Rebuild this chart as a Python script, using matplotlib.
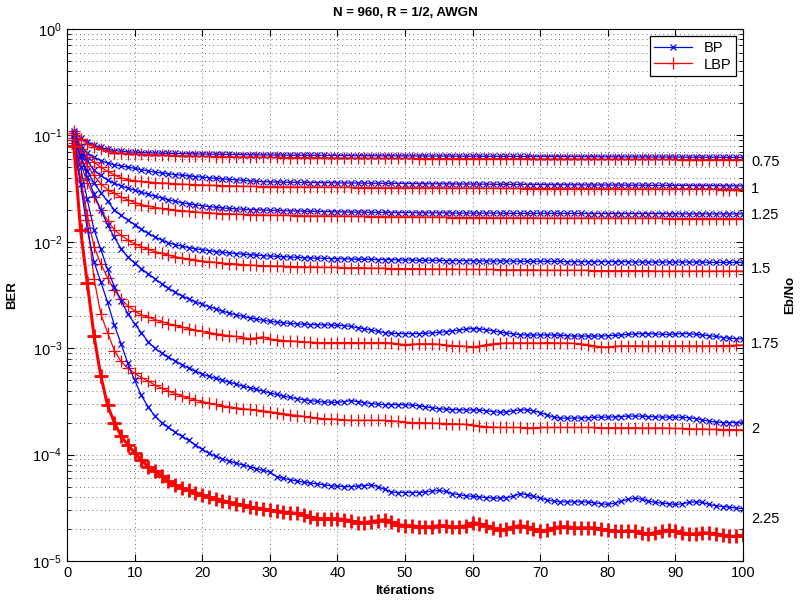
import numpy as np
import matplotlib
matplotlib.use("Agg")
import matplotlib.pyplot as plt
from matplotlib.lines import Line2D
from matplotlib.ticker import LogLocator, NullFormatter

plt.rcParams['font.family'] = ['Liberation Sans', 'DejaVu Sans']
plt.rcParams['mathtext.default'] = 'regular'

# itérations 1..100
iterations = np.arange(1, 101)
ebno_labels = ['0.75', '1', '1.25', '1.5', '1.75', '2', '2.25']

# BER (BP = bleu, LBP = rouge)
bp_075 = np.array([
    110, 95, 87, 81, 77, 74, 72, 71, 70, 69.5,
    69, 68.6, 68.3, 68, 67.8, 67.6, 67.4, 67.2, 67, 66.8,
    66.6, 66.5, 66.3, 66.2, 66, 65.9, 65.7, 65.6, 65.5, 65.4,
    65.3, 65.2, 65.1, 65, 65, 64.9, 64.8, 64.8, 64.7, 64.6,
    64.6, 64.5, 64.5, 64.4, 64.4, 64.3, 64.3, 64.2, 64.2, 64.1,
    64.1, 64, 64, 63.9, 63.9, 63.9, 63.8, 63.8, 63.7, 63.7,
    63.7, 63.6, 63.6, 63.5, 63.5, 63.5, 63.4, 63.4, 63.3, 63.3,
    63.3, 63.2, 63.2, 63.1, 63.1, 63.1, 63, 63, 62.9, 62.9,
    62.9, 62.8, 62.8, 62.7, 62.7, 62.7, 62.6, 62.6, 62.5, 62.5,
    62.5, 62.4, 62.4, 62.3, 62.3, 62.3, 62.2, 62.2, 62.1, 62.1]) * 1e-3
lbp_075 = np.array([
    110, 93, 83, 78, 74, 71, 69, 68, 67.5, 67,
    66.5, 66, 65.6, 65.2, 64.9, 64.6, 64.3, 64, 63.8, 63.6,
    63.4, 63.2, 63, 62.9, 62.7, 62.6, 62.5, 62.3, 62.2, 62.1,
    62, 61.9, 61.8, 61.7, 61.6, 61.6, 61.5, 61.4, 61.3, 61.3,
    61.2, 61.1, 61.1, 61, 61, 60.9, 60.9, 60.8, 60.8, 60.7,
    60.7, 60.6, 60.6, 60.5, 60.5, 60.5, 60.4, 60.4, 60.3, 60.3,
    60.3, 60.2, 60.2, 60.2, 60.1, 60.1, 60.1, 60, 60, 60,
    59.9, 59.9, 59.9, 59.8, 59.8, 59.8, 59.7, 59.7, 59.7, 59.6,
    59.6, 59.6, 59.6, 59.5, 59.5, 59.5, 59.4, 59.4, 59.4, 59.4,
    59.3, 59.3, 59.3, 59.2, 59.2, 59.2, 59.2, 59.1, 59.1, 59.1]) * 1e-3

bp_1 = np.array([
    105, 80, 68, 62.7, 58, 55, 53, 51.5, 50.5, 49,
    47.5, 46.3, 45.2, 44.3, 43.5, 42.8, 42.2, 41.6, 41, 40.5,
    40, 39.5, 39, 38.6, 38.2, 37.8, 37.4, 37, 36.7, 36.5,
    36.4, 36.3, 36.2, 36.2, 36.1, 36, 36, 35.9, 35.9, 35.8,
    35.7, 35.7, 35.6, 35.6, 35.5, 35.5, 35.4, 35.4, 35.3, 35.3,
    35.2, 35.2, 35.1, 35.1, 35.1, 35, 35, 34.9, 34.9, 34.9,
    34.8, 34.8, 34.7, 34.7, 34.7, 34.6, 34.6, 34.5, 34.5, 34.5,
    34.4, 34.4, 34.4, 34.3, 34.3, 34.3, 34.2, 34.2, 34.2, 34.1,
    34.1, 34.1, 34, 34, 34, 33.9, 33.9, 33.9, 33.9, 33.8,
    33.8, 33.8, 33.7, 33.7, 33.7, 33.7, 33.6, 33.6, 33.6, 33.5]) * 1e-3
lbp_1 = np.array([
    105, 75, 62, 56, 50, 46, 42.5, 40, 38.5, 37.5,
    37, 36.5, 36, 35.7, 35.4, 35.1, 34.8, 34.6, 34.4, 34.2,
    34, 33.9, 33.7, 33.6, 33.4, 33.3, 33.2, 33.1, 33, 32.9,
    32.9, 32.8, 32.8, 32.7, 32.7, 32.6, 32.6, 32.5, 32.5, 32.4,
    32.4, 32.4, 32.3, 32.3, 32.3, 32.2, 32.2, 32.2, 32.1, 32.1,
    32.1, 32, 32, 32, 32, 31.9, 31.9, 31.9, 31.9, 31.8,
    31.8, 31.8, 31.8, 31.7, 31.7, 31.7, 31.7, 31.6, 31.6, 31.6,
    31.6, 31.6, 31.5, 31.5, 31.5, 31.5, 31.4, 31.4, 31.4, 31.4,
    31.4, 31.3, 31.3, 31.3, 31.3, 31.3, 31.2, 31.2, 31.2, 31.2,
    31.2, 31.1, 31.1, 31.1, 31.1, 31.1, 31, 31, 31, 31]) * 1e-3

bp_125 = np.array([
    100, 75, 58, 47, 42, 38, 35.5, 33.5, 32, 30.5,
    29.2, 28, 26.8, 25.8, 24.8, 24, 23.3, 22.7, 22.2, 21.8,
    21.4, 21.1, 20.8, 20.6, 20.4, 20.2, 20.1, 20, 19.9, 19.8,
    19.7, 19.6, 19.5, 19.5, 19.4, 19.3, 19.3, 19.2, 19.2, 19.1,
    19.1, 19, 19, 19, 18.9, 18.9, 18.9, 18.8, 18.8, 18.8,
    18.8, 18.7, 18.7, 18.7, 18.7, 18.7, 18.6, 18.6, 18.6, 18.6,
    18.6, 18.6, 18.6, 18.6, 18.5, 18.5, 18.5, 18.5, 18.5, 18.5,
    18.5, 18.5, 18.5, 18.5, 18.5, 18.5, 18.4, 18.4, 18.4, 18.4,
    18.4, 18.4, 18.4, 18.4, 18.4, 18.4, 18.4, 18.4, 18.3, 18.3,
    18.3, 18.3, 18.3, 18.3, 18.3, 18.3, 18.3, 18.3, 18.3, 18.3]) * 1e-3
lbp_125 = np.array([
    100, 70, 52, 42, 35, 31, 28.5, 26.3, 24.8, 23.4,
    22.4, 21.6, 21, 20.6, 20.2, 19.9, 19.6, 19.3, 19.1, 18.9,
    18.7, 18.5, 18.4, 18.3, 18.2, 18.1, 18, 17.9, 17.9, 17.8,
    17.8, 17.7, 17.7, 17.6, 17.6, 17.5, 17.5, 17.5, 17.4, 17.4,
    17.4, 17.3, 17.3, 17.3, 17.2, 17.2, 17.2, 17.1, 17.1, 17.1,
    17.1, 17, 17, 17, 17, 17, 16.9, 16.9, 16.9, 16.9,
    16.9, 16.9, 16.8, 16.8, 16.8, 16.8, 16.8, 16.8, 16.8, 16.7,
    16.7, 16.7, 16.7, 16.7, 16.7, 16.7, 16.7, 16.6, 16.6, 16.6,
    16.6, 16.6, 16.6, 16.6, 16.6, 16.6, 16.6, 16.6, 16.5, 16.5,
    16.5, 16.5, 16.5, 16.5, 16.5, 16.5, 16.5, 16.5, 16.5, 16.5]) * 1e-3

bp_15 = np.array([
    95, 63, 46, 35.7, 29, 24, 20, 17.7, 16, 14.5,
    13.1, 12, 11.1, 10.4, 9.8, 9.4, 9.1, 8.8, 8.6, 8.4,
    8.25, 8.1, 7.95, 7.85, 7.75, 7.65, 7.55, 7.5, 7.4, 7.35,
    7.3, 7.25, 7.2, 7.15, 7.1, 7.05, 7, 7, 6.95, 6.95,
    6.9, 6.9, 6.85, 6.85, 6.85, 6.8, 6.8, 6.8, 6.75, 6.75,
    6.75, 6.7, 6.7, 6.7, 6.7, 6.65, 6.65, 6.65, 6.65, 6.65,
    6.6, 6.6, 6.6, 6.6, 6.6, 6.6, 6.55, 6.55, 6.55, 6.55,
    6.55, 6.55, 6.55, 6.5, 6.5, 6.5, 6.5, 6.5, 6.5, 6.5,
    6.5, 6.5, 6.5, 6.45, 6.45, 6.45, 6.45, 6.45, 6.45, 6.45,
    6.45, 6.45, 6.45, 6.45, 6.4, 6.4, 6.4, 6.4, 6.4, 6.4]) * 1e-3
lbp_15 = np.array([
    95, 55, 36, 26.4, 20, 15.8, 13, 11.5, 10.4, 9.6,
    9, 8.5, 8.1, 7.8, 7.5, 7.25, 7.05, 6.9, 6.75, 6.6,
    6.5, 6.4, 6.3, 6.25, 6.2, 6.1, 6.05, 6, 5.95, 5.95,
    5.9, 5.9, 5.85, 5.85, 5.8, 5.8, 5.8, 5.75, 5.75, 5.75,
    5.7, 5.7, 5.7, 5.7, 5.65, 5.65, 5.65, 5.6, 5.6, 5.6,
    5.6, 5.6, 5.55, 5.55, 5.55, 5.55, 5.55, 5.5, 5.5, 5.5,
    5.5, 5.5, 5.5, 5.45, 5.45, 5.45, 5.45, 5.45, 5.45, 5.4,
    5.4, 5.4, 5.4, 5.4, 5.4, 5.4, 5.4, 5.35, 5.35, 5.35,
    5.35, 5.35, 5.35, 5.35, 5.35, 5.35, 5.3, 5.3, 5.3, 5.3,
    5.3, 5.3, 5.3, 5.3, 5.3, 5.3, 5.3, 5.3, 5.3, 5.3]) * 1e-3

bp_175 = np.array([
    900, 650, 410, 280, 200, 145, 110, 86, 72, 63,
    56, 50, 45, 40.5, 36.5, 33.5, 31, 29, 27.3, 25.8,
    24.6, 23.4, 22.3, 21.4, 20.6, 19.9, 19.3, 18.8, 18.3, 17.9,
    17.6, 17.3, 17.1, 16.9, 16.8, 16.7, 16.6, 16.6, 16.5, 16.4,
    16.3, 16, 15.6, 15.2, 14.8, 14.4, 14, 13.8, 13.7, 13.7,
    13.7, 13.7, 13.8, 13.9, 14.1, 14.3, 14.5, 14.8, 15.1, 15.3,
    15.2, 14.9, 14.6, 14.2, 13.9, 13.6, 13.4, 13.3, 13.3, 13.3,
    13.3, 13.3, 13.2, 13.1, 13, 13, 13, 13, 13, 13.1,
    13.2, 13.3, 13.5, 13.6, 13.7, 13.7, 13.6, 13.5, 13.5, 13.6,
    13.7, 13.7, 13.5, 13.3, 13.1, 12.9, 12.6, 12.4, 12.3, 12.2]) * 1e-4
lbp_175 = np.array([
    900, 400, 180, 90, 62, 46, 35, 29, 25, 22.5,
    20.5, 19.6, 18.6, 17.8, 17, 16.4, 15.8, 15.3, 14.8, 14.4,
    14, 13.7, 13.4, 13.1, 12.9, 12.6, 12.3, 12.5, 12.8, 12.2,
    12, 11.8, 11.7, 11.6, 11.5, 11.4, 11.3, 11.3, 11.3, 11.3,
    11.3, 11.3, 11.3, 11.3, 11.3, 11.3, 11.3, 11.2, 11, 10.8,
    10.9, 11, 11, 11, 10.9, 10.7, 10.6, 10.5, 10.4, 10.3,
    10.5, 10.8, 11, 11.1, 11.2, 11.2, 11.2, 11.2, 11.2, 11.2,
    11.3, 11.2, 11.2, 11.2, 11.1, 11, 10.8, 10.5, 10.3, 10.3,
    10.4, 10.5, 10.5, 10.5, 10.5, 10.5, 10.5, 10.5, 10.5, 10.5,
    10.5, 10.5, 10.5, 10.5, 10.5, 10.5, 10.6, 10.6, 10.7, 10.7]) * 1e-4

bp_2 = np.array([
    8500, 5000, 2500, 1300, 850, 550, 380, 280, 210, 170,
    140, 115, 100, 90, 82, 76, 70, 65, 61, 57,
    54.5, 52, 50, 48, 46, 44, 42.5, 41, 39.5, 38,
    36.8, 35.5, 34.5, 33.6, 32.8, 32.2, 31.6, 31.2, 31, 31,
    31.5, 32.2, 31.5, 30.8, 30.2, 29.7, 29.5, 29.5, 29.5, 29.4,
    29.2, 28.8, 28.2, 27.5, 27, 26.7, 26.5, 26.4, 26.3, 26.3,
    26.2, 25.8, 25.4, 25, 25.2, 25.8, 26.3, 26.3, 25.8, 24.8,
    23.6, 22.5, 22, 22, 22, 22.1, 22.2, 22.4, 22.5, 22.5,
    22.6, 22.8, 23, 23, 23, 22.8, 22.6, 22.5, 22.5, 22.5,
    22.4, 22.2, 21.8, 21.2, 20.6, 20.2, 20, 20, 20, 20.2]) * 1e-5
lbp_2 = np.array([
    8500, 3800, 1600, 450, 210, 140, 95, 75, 65, 58,
    53, 49, 45, 42, 39.5, 37.5, 35.6, 34, 32.6, 31.5,
    30.5, 29.6, 28.8, 28.1, 27.5, 27, 26.6, 26.2, 25.8, 25.3,
    24.8, 24.3, 23.8, 23.3, 22.9, 22.5, 22.1, 21.8, 21.6, 21.4,
    21.2, 21, 21, 21, 21, 21, 21, 20.8, 20.5, 20.2,
    20, 20, 19.9, 19.8, 19.7, 19.6, 19.5, 19.4, 19.2, 19,
    18.6, 18.3, 18.1, 18, 18, 18, 18, 17.9, 17.9, 18,
    18, 18, 18, 18, 18, 18, 18, 18, 17.9, 17.9,
    17.9, 17.9, 17.9, 17.9, 17.8, 17.8, 17.8, 17.8, 17.7, 17.6,
    17.6, 17.5, 17.4, 17.4, 17.3, 17.3, 17.2, 17.2, 17.1, 17.1]) * 1e-5

bp_225 = np.array([
    80000, 35000, 13000, 6500, 4200, 2700, 1650, 1100, 720, 500,
    360, 280, 230, 200, 180, 162, 148, 136, 123, 112,
    103, 96, 91, 87, 83, 80, 77, 74, 71, 68.5,
    62, 60, 58, 56.5, 55, 54, 53, 52, 51, 50.5,
    50, 50, 50.5, 51, 52, 50, 47, 44.5, 44, 44,
    44, 44, 44.5, 45.5, 46, 45, 43, 42, 41, 40.5,
    40, 39.5, 39, 39, 39.5, 40.5, 43, 42, 40.5, 39,
    37.5, 36.5, 36, 36, 36, 36, 35.8, 35.2, 34.6, 34,
    35, 36.5, 38, 39, 38, 36.5, 35.5, 35, 34.5, 34,
    34.5, 35.5, 36, 35.5, 34, 33, 32.5, 32, 31.5, 31]) * 1e-6
lbp_225 = np.array([
    80000, 13000, 4100, 1300, 550, 290, 200, 150, 123, 104,
    89, 77, 70, 63, 56, 52, 49, 46, 44, 42,
    40, 38.5, 37, 35.5, 34.5, 33.5, 32, 31.5, 31, 30,
    29.5, 29, 28.5, 28, 27, 26, 25, 25, 25, 25,
    24.5, 24, 23, 23, 23.5, 24, 24.5, 23.5, 22, 21.5,
    21.5, 21, 21, 21, 21.5, 21.5, 21, 21, 21.5, 23,
    22.5, 21.5, 20.5, 19.5, 20, 21, 21.5, 21, 20, 19.2,
    19.5, 20.5, 21, 21, 20.5, 20.5, 20.5, 20.5, 20, 19.5,
    19, 19, 19.2, 19, 18.3, 18, 18.5, 19.2, 19.5, 19,
    18.5, 18, 18, 18.5, 18.3, 18, 17.5, 17, 17.2, 17.5]) * 1e-6

bp_curves = [bp_075, bp_1, bp_125, bp_15, bp_175, bp_2, bp_225]
lbp_curves = [lbp_075, lbp_1, lbp_125, lbp_15, lbp_175, lbp_2, lbp_225]
# hauteur des étiquettes Eb/No à droite
label_y = [0.056, 0.0313, 0.0179, 0.00555, 0.0011, 1.74e-4, 2.48e-5]

fig = plt.figure(figsize=(8.05, 6.04), dpi=100)
ax = fig.add_axes([67 / 805, 1 - 561 / 604, 676 / 805, 532 / 604])

for k in range(len(ebno_labels)):
    thick = (k == len(ebno_labels) - 1)
    ax.semilogy(iterations, bp_curves[k], '-x', color='blue', lw=0.9,
                ms=5, mew=0.9)
    ax.semilogy(iterations, lbp_curves[k], '-+', color='red',
                lw=2.2 if thick else 0.9, ms=10 if thick else 8,
                mew=2.0 if thick else 0.9)

ax.set_xlim(0, 100)
ax.set_ylim(1e-5, 1)
ax.set_xticks(np.arange(0, 101, 10))
ax.yaxis.set_minor_locator(LogLocator(base=10, subs=np.arange(2, 10), numticks=20))
ax.yaxis.set_minor_formatter(NullFormatter())
ax.tick_params(which='both', direction='in', top=True, right=True, labelsize=10.5)
ax.tick_params(which='major', length=5)
ax.tick_params(which='minor', length=3)
ax.grid(True, which='major', linestyle=(0, (1, 4)), color='0.25', lw=0.6)
ax.grid(True, which='minor', axis='y', linestyle=(0, (1, 4)), color='0.25', lw=0.6)
ax.set_axisbelow(True)

for lab, yv in zip(ebno_labels, label_y):
    ax.text(1.012, yv, lab, transform=ax.get_yaxis_transform(),
            ha='left', va='center', fontsize=10.5)

ax.set_title('N = 960, R = 1/2, AWGN', fontsize=9.5, fontweight='bold', pad=9)
ax.set_xlabel('Itérations', fontsize=9.5, fontweight='bold', labelpad=4)
ax.set_ylabel('BER', fontsize=9.5, fontweight='bold', labelpad=10)
fig.text(790 / 805, 1 - 295 / 604, 'Eb/No', rotation=90, ha='center', va='center',
         fontsize=9.5, fontweight='bold')

handles = [Line2D([], [], color='blue', marker='x', lw=0.9, ms=5, mew=0.9),
           Line2D([], [], color='red', marker='+', lw=0.9, ms=8, mew=0.9)]
leg = ax.legend(handles, ['BP', 'LBP'], loc='upper right', fontsize=10.5,
                fancybox=False, framealpha=1, edgecolor='black',
                borderaxespad=0.5, handlelength=2.6, borderpad=0.3,
                labelspacing=0.2)
leg.get_frame().set_linewidth(0.9)

fig.savefig('out.png', dpi=100)
